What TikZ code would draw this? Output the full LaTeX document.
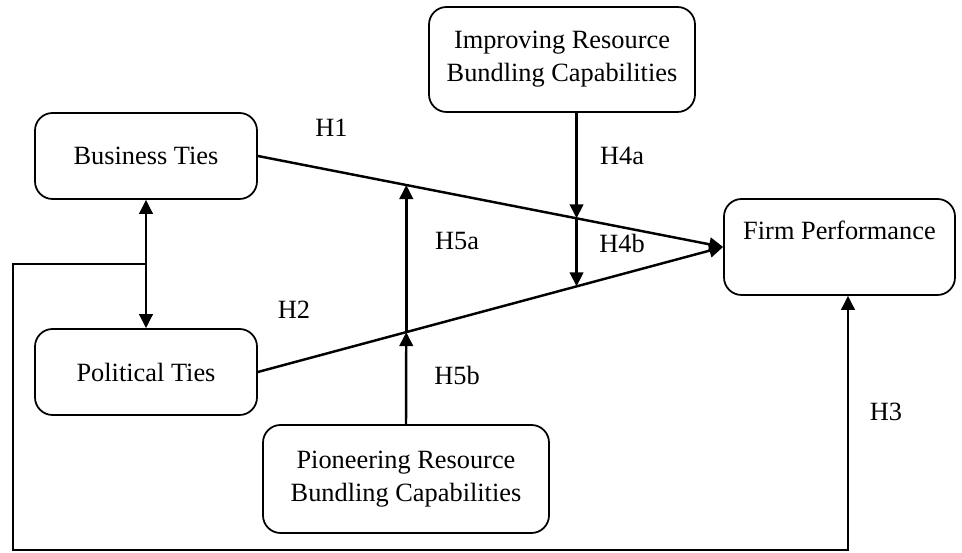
\documentclass[tikz,border=0pt]{standalone}
\usepackage{fontspec}
\setmainfont{Liberation Serif}
\usetikzlibrary{arrows.meta,calc,positioning}
\tikzset{ctbox/.style={draw,rounded corners=10pt,line width=1pt,align=center,inner sep=0pt}}
\tikzset{hyparrow/.style={-{Triangle[length=2.8mm,width=2.7mm]},line width=1.4pt}}
\tikzset{hlabel/.style={inner sep=0pt}}

\begin{document}
\begin{tikzpicture}[font=\fontsize{15}{18.8}\selectfont]
	\useasboundingbox (0,0) rectangle (19.24,11.06);
	\node[ctbox,minimum width=4.44cm,minimum height=1.72cm] (bus) at (2.92,7.94) {Business Ties};
	\node[ctbox,minimum width=4.44cm,minimum height=1.72cm] (pol) at (2.92,3.62) {Political Ties};
	\node[ctbox,minimum width=5.32cm,minimum height=2.1cm] (imp) at (11.24,9.87) {Improving Resource\\Bundling Capabilities};
	\node[ctbox,minimum width=5.72cm,minimum height=2.16cm] (pio) at (8.12,1.48) {Pioneering Resource\\Bundling Capabilities};
	\node[ctbox,minimum width=4.62cm,minimum height=1.92cm] (firm) at (16.79,6.12) {Firm Performance\\~};
	% main effects
	\draw[hyparrow] (bus.east) -- (firm.west);
	\draw[hyparrow] (pol.east) -- (firm.west);
	\coordinate (h4a) at ($(bus.east)!0.685!(firm.west)$);
	\coordinate (h4b) at ($(pol.east)!0.685!(firm.west)$);
	\coordinate (h5a) at ($(bus.east)!0.319!(firm.west)$);
	\coordinate (h5b) at ($(pol.east)!0.319!(firm.west)$);
	% moderators
	\draw[hyparrow] (h4a |- imp.south) -- (h4a);
	\draw[hyparrow] (h4a) -- (h4b);
	\draw[hyparrow] (pio.north) -- (h5b);
	\draw[hyparrow] (h5b) -- (h5a);
	% ties
	\draw[hyparrow,{Triangle[length=2.8mm,width=2.7mm]}-{Triangle[length=2.8mm,width=2.7mm]}] (bus.south) -- (pol.north);
	\coordinate (tie) at ($(bus.south)!0.5!(pol.north)$);
	\coordinate (loopl) at (0.26,0.06);
	\draw[hyparrow] (tie) -| (loopl) -| ([xshift=0.17cm]firm.south);
	% labels
	\node[hlabel] (lh1) at (6.63,8.51) {H1};
	\node[hlabel] (lh2) at (5.88,4.86) {H2};
	\node[hlabel] (lh3) at (17.72,2.82) {H3};
	\node[hlabel] (lh4a) at (12.44,7.95) {H4a};
	\node[hlabel] (lh4b) at (12.44,6.20) {H4b};
	\node[hlabel] (lh5a) at (9.14,6.24) {H5a};
	\node[hlabel] (lh5b) at (9.14,3.56) {H5b};
\end{tikzpicture}
\end{document}
